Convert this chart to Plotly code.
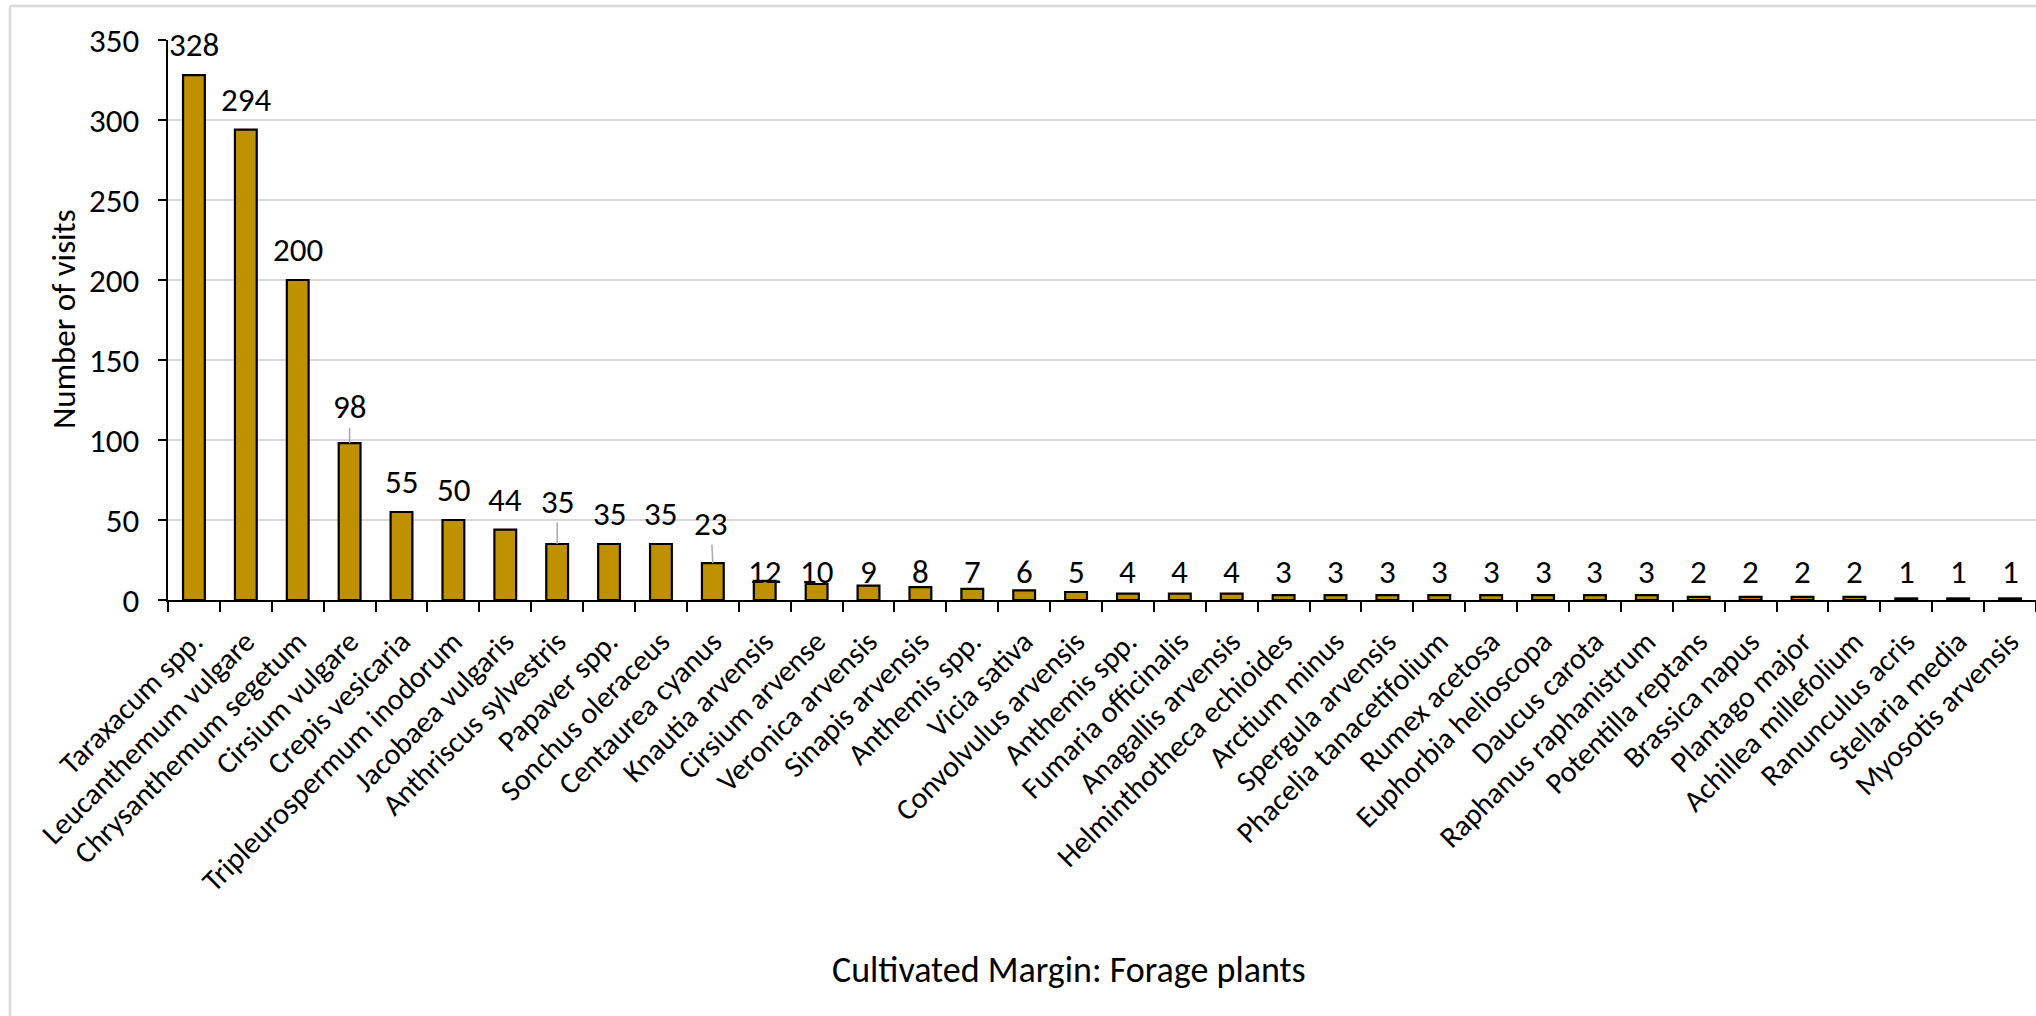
import plotly.graph_objects as go

# Forage plants visited at the cultivated margin
plants = [
    "Taraxacum spp.", "Leucanthemum vulgare", "Chrysanthemum segetum", "Cirsium vulgare",
    "Crepis vesicaria", "Tripleurospermum inodorum", "Jacobaea vulgaris", "Anthriscus sylvestris",
    "Papaver spp.", "Sonchus oleraceus", "Centaurea cyanus", "Knautia arvensis",
    "Cirsium arvense", "Veronica arvensis", "Sinapis arvensis", "Anthemis spp.",
    "Vicia sativa", "Convolvulus arvensis", "Anthemis spp.", "Fumaria officinalis",
    "Anagallis arvensis", "Helminthotheca echioides", "Arctium minus", "Spergula arvensis",
    "Phacelia tanacetifolium", "Rumex acetosa", "Euphorbia helioscopa", "Daucus carota",
    "Raphanus raphanistrum", "Potentilla reptans", "Brassica napus", "Plantago major",
    "Achillea millefolium", "Ranunculus acris", "Stellaria media", "Myosotis arvensis",
]
visits = [
    328, 294, 200, 98, 55, 50, 44, 35, 35, 35, 23, 12,
    10, 9, 8, 7, 6, 5, 4, 4, 4, 3, 3, 3,
    3, 3, 3, 3, 3, 2, 2, 2, 2, 1, 1, 1,
]
y_ticks = [0, 50, 100, 150, 200, 250, 300, 350]

W, H = 2036, 1016
ML, MR, MT, MB = 168, 0, 40, 416
plot_w = W - ML - MR
plot_h = H - MT - MB

FONT = "Calibri, Carlito, Lato, sans-serif"
FS = 33
BAR = "#BF9000"
GRID = "#D9D9D9"

xs = list(range(len(plants)))
boundaries = [i - 0.5 for i in range(len(plants) + 1)]

fig = go.Figure()
fig.add_trace(go.Bar(
    x=xs, y=visits,
    marker=dict(color=BAR, line=dict(color="#000000", width=2.2)),
    width=0.42,
    hoverinfo="y",
))

# Data labels; a few are lifted clear of neighbours with a leader line
leader_gap = {"Cirsium vulgare": 36, "Anthriscus sylvestris": 42, "Centaurea cyanus": 39}
label_font = dict(family=FONT, size=FS, color="#000000")
annotations = []
for i, (name, v) in enumerate(zip(plants, visits)):
    if name in leader_gap:
        annotations.append(dict(
            x=i, y=v, xref="x", yref="y", text=str(v),
            showarrow=True, arrowhead=0, arrowwidth=1.5, arrowcolor="#A6A6A6",
            ax=-2 if name == "Centaurea cyanus" else 0, ay=-leader_gap[name],
            standoff=0, borderpad=0, font=label_font,
        ))
    elif v >= 20:
        annotations.append(dict(
            x=i, y=v, xref="x", yref="y", text=str(v), showarrow=False,
            yshift=30, yanchor="middle", font=label_font,
        ))
    else:
        annotations.append(dict(
            x=i, y=0, xref="x", yref="y", text=str(v), showarrow=False,
            yshift=28, yanchor="middle", font=label_font,
        ))

# Axis titles
annotations.append(dict(
    x=(1069 - ML) / plot_w, y=(MT + plot_h - 970) / plot_h, xref="paper", yref="paper",
    text="Cultivated Margin: Forage plants", showarrow=False,
    xanchor="center", yanchor="middle",
    font=dict(family=FONT, size=36, color="#000000"),
))
annotations.append(dict(
    x=(64 - ML) / plot_w, y=(MT + plot_h - 319) / plot_h, xref="paper", yref="paper",
    text="Number of visits", showarrow=False, textangle=-90,
    xanchor="center", yanchor="middle", font=label_font,
))

# Chart-area frame (left and top edges)
shapes = [
    dict(type="line", xref="paper", yref="paper",
         x0=(10 - ML) / plot_w, x1=(10 - ML) / plot_w,
         y0=(MT + plot_h - 6) / plot_h, y1=(MT + plot_h - H - 5) / plot_h,
         line=dict(color=GRID, width=2.5)),
    dict(type="line", xref="paper", yref="paper",
         x0=(10 - ML) / plot_w, x1=1.01,
         y0=(MT + plot_h - 6) / plot_h, y1=(MT + plot_h - 6) / plot_h,
         line=dict(color=GRID, width=2.5)),
]

fig.update_layout(
    width=W, height=H,
    margin=dict(l=ML, r=MR, t=MT, b=MB, autoexpand=False),
    paper_bgcolor="white", plot_bgcolor="white",
    showlegend=False,
    annotations=annotations,
    shapes=shapes,
    font=dict(family=FONT, size=FS, color="#000000"),
)
fig.update_xaxes(
    range=[-0.5, len(plants) - 0.5],
    tickmode="array", tickvals=xs, ticktext=plants,
    tickangle=-45,
    tickfont=dict(family=FONT, size=30, color="#000000"),
    showline=True, linecolor="#000000", linewidth=2.2,
    ticks="outside", ticklen=10, tickwidth=2, tickcolor="rgba(0,0,0,0)",
    minor=dict(tickmode="array", tickvals=boundaries, ticks="outside",
               ticklen=10, tickwidth=2, tickcolor="#000000", showgrid=False),
    showgrid=False, zeroline=False,
)
fig.update_yaxes(
    range=[0, 350],
    tickmode="array", tickvals=y_ticks,
    tickfont=dict(family=FONT, size=FS, color="#000000"),
    showline=True, linecolor="#000000", linewidth=2.2,
    ticks="outside", ticklen=8, tickwidth=2, tickcolor="#000000",
    showgrid=True, gridcolor=GRID, gridwidth=2,
    zeroline=False,
    ticklabelstandoff=12,
)

fig.write_html("out.html")
